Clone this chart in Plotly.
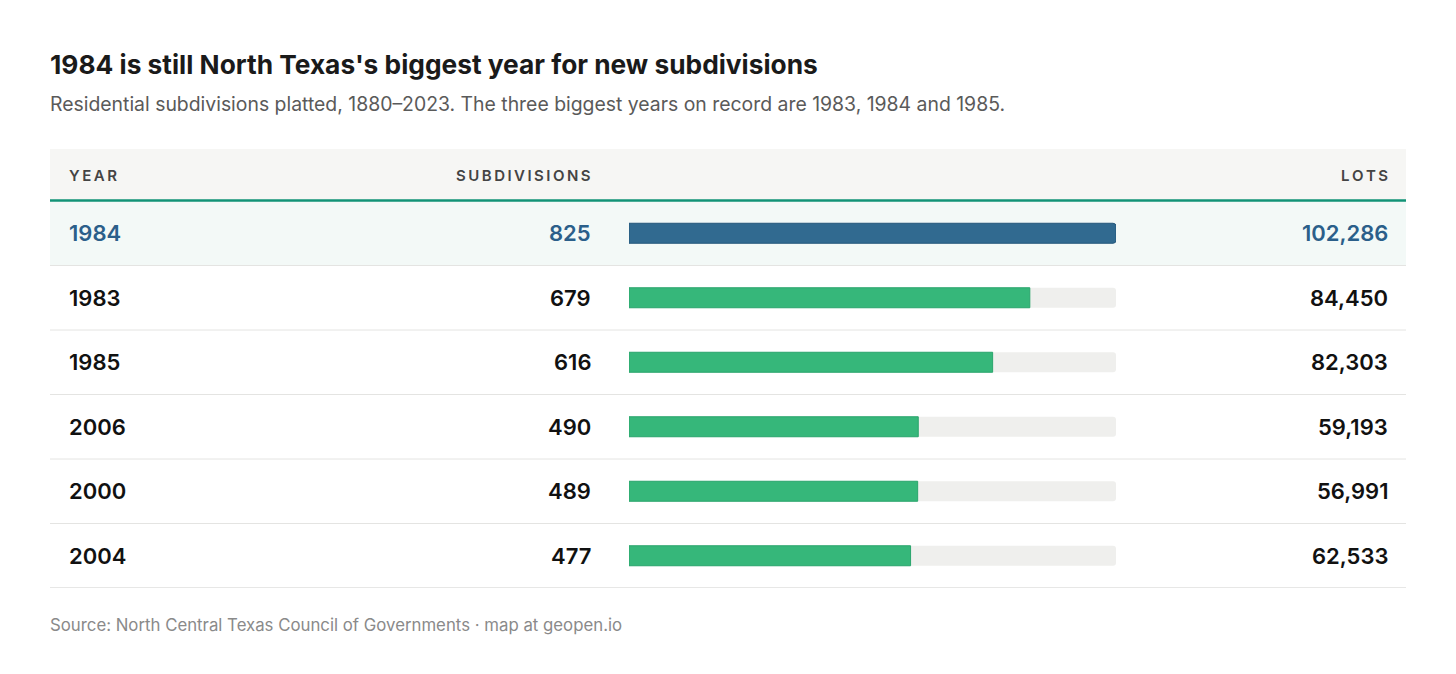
import plotly.graph_objects as go

years = ["1984", "1983", "1985", "2006", "2000", "2004"]
subdivisions = [825, 679, 616, 490, 489, 477]
lots = [102286, 84450, 82303, 59193, 56991, 62533]
highlight = "1984"

title = "1984 is still North Texas's biggest year for new subdivisions"
subtitle = ("Residential subdivisions platted, 1880\u20132023. "
            "The three biggest years on record are 1983, 1984 and 1985.")
source = "Source: North Central Texas Council of Governments \u00b7 map at geopen.io"
headers = ["YEAR", "SUBDIVISIONS", "LOTS"]

# the page has an 8px body margin, so the figure is a bit smaller than the window
OFF = 8
W, H = 1440, 658
FONT = "Inter, 'Noto Sans', sans-serif"
BLUE = "#2b5f8a"
GREEN = "#36b77a"


def px(x):
    return (x - OFF) / W


def py(y):
    return 1 - (y - OFF) / H


def spaced(s):
    return "\u2009".join(s)


n = len(years)
rows = list(range(n))
max_sub = max(subdivisions)
bar_colors = [("#316a90" if y == highlight else GREEN) for y in years]
line_colors = [("#24587c" if y == highlight else "#2aa56c") for y in years]

fig = go.Figure()
# grey track behind each bar
fig.add_trace(go.Bar(
    y=rows, x=[max_sub] * n, orientation="h",
    marker=dict(color="#efefed", line=dict(width=0)),
    width=0.31, hoverinfo="skip", showlegend=False,
))
fig.add_trace(go.Bar(
    y=rows, x=subdivisions, orientation="h", customdata=years,
    marker=dict(color=bar_colors, line=dict(color=line_colors, width=1)),
    width=0.31, showlegend=False,
    hovertemplate="%{customdata}: %{x}<extra></extra>",
))

shapes = []
# header band
shapes.append(dict(type="rect", xref="paper", yref="paper",
                   x0=px(50), x1=px(1406), y0=py(200), y1=py(149),
                   fillcolor="#f6f6f4", line=dict(width=0), layer="below"))
for i, y in zip(rows, years):
    if y == highlight:
        shapes.append(dict(type="rect", xref="paper", yref="y",
                           x0=px(50), x1=px(1406), y0=i - 0.5, y1=i + 0.5,
                           fillcolor="#f3f9f7", line=dict(width=0), layer="below"))
    if i < n - 1:
        shapes.append(dict(type="line", xref="paper", yref="y",
                           x0=px(50), x1=px(1406), y0=i + 0.5, y1=i + 0.5,
                           line=dict(color="#e4e4e2", width=1)))
shapes.append(dict(type="line", xref="paper", yref="y",
                   x0=px(50), x1=px(1406), y0=n - 0.5, y1=n - 0.5,
                   line=dict(color="#cfcfcd", width=1.2)))
shapes.append(dict(type="line", xref="paper", yref="paper",
                   x0=px(50), x1=px(1406), y0=py(200.5), y1=py(200.5),
                   line=dict(color="#129377", width=2.5)))

ann = []
ann.append(dict(text=f"<b>{title}</b>", x=px(48), y=py(64), xref="paper", yref="paper",
                xanchor="left", yanchor="middle", showarrow=False,
                font=dict(family=FONT, size=26.3, color="#1a1a1a")))
ann.append(dict(text=subtitle, x=px(48), y=py(104), xref="paper", yref="paper",
                xanchor="left", yanchor="middle", showarrow=False,
                font=dict(family=FONT, size=19.4, color="#5a5a5a")))
ann.append(dict(text=source, x=px(48), y=py(625), xref="paper", yref="paper",
                xanchor="left", yanchor="middle", showarrow=False,
                font=dict(family=FONT, size=16.8, color="#8a8a8a")))
hdr_x = [(67, "left"), (593, "right"), (1390, "right")]
for h, (x, anc) in zip(headers, hdr_x):
    ann.append(dict(text=spaced(h), x=px(x), y=py(175), xref="paper", yref="paper",
                    xanchor=anc, yanchor="middle", showarrow=False,
                    font=dict(family=FONT, size=15, color="#444444", weight=600)))

for i, y, s, l in zip(rows, years, subdivisions, lots):
    c = BLUE if y == highlight else "#111111"
    f = dict(family=FONT, size=22, color=c, weight=600)
    ann.append(dict(text=y, x=px(67), y=i, xref="paper", yref="y",
                    xanchor="left", yanchor="middle", showarrow=False, font=f))
    ann.append(dict(text=f"{s:,}", x=px(593), y=i, xref="paper", yref="y",
                    xanchor="right", yanchor="middle", showarrow=False, font=f))
    ann.append(dict(text=f"{l:,}", x=px(1390), y=i, xref="paper", yref="y",
                    xanchor="right", yanchor="middle", showarrow=False, font=f))

fig.update_layout(
    width=W, height=H,
    margin=dict(l=0, r=0, t=0, b=0),
    paper_bgcolor="white", plot_bgcolor="rgba(0,0,0,0)",
    barmode="overlay", barcornerradius=3,
    xaxis=dict(domain=[px(629), px(1116)], range=[0, max_sub],
               visible=False, fixedrange=True),
    yaxis=dict(domain=[py(588), py(201)], range=[n - 0.5, -0.5],
               visible=False, fixedrange=True),
    shapes=shapes, annotations=ann,
    font=dict(family=FONT),
)

fig.write_html("out.html")
